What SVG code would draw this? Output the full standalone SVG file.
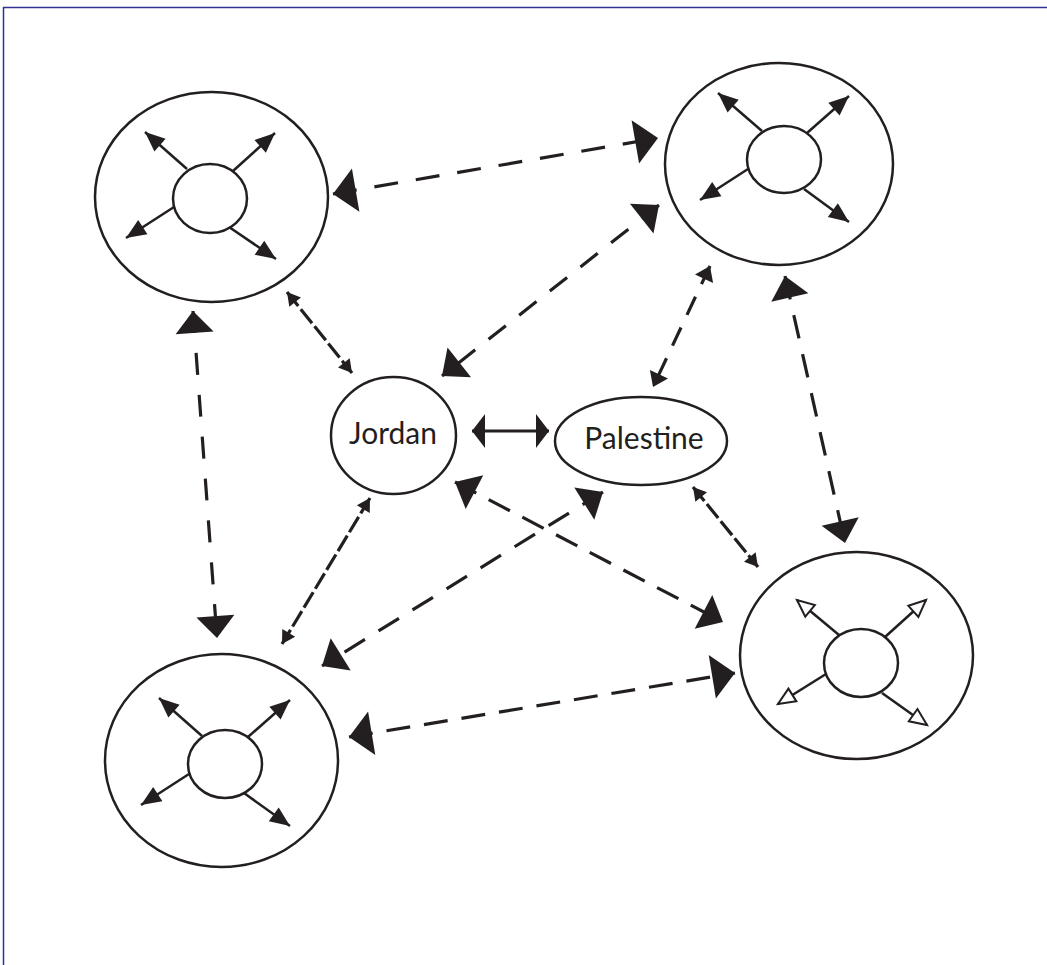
<svg xmlns="http://www.w3.org/2000/svg" width="1047" height="965" viewBox="0 0 1047 965">
<style>
.ring{fill:#fff;stroke:#231f20;stroke-width:2.5}
.spoke{stroke:#231f20;stroke-width:2.5;fill:none;marker-end:url(#mInner)}
.spokeH{stroke:#231f20;stroke-width:2.5;fill:none;marker-end:url(#mHollow)}
.con{stroke:#231f20;stroke-width:3.2;fill:none}
.lab{font-family:Lato,"Open Sans","Liberation Sans",sans-serif;font-weight:400;font-size:30px;fill:#231f20;text-anchor:middle}
</style>
<defs>
<marker id="mBig" markerUnits="userSpaceOnUse" orient="auto-start-reverse" markerWidth="60" markerHeight="60" refX="0" refY="0" viewBox="-30 -30 60 60" overflow="visible"><path d="M0,0 L-23,-22 L-23,22 Z" fill="#231f20"/></marker>
<marker id="mMed" markerUnits="userSpaceOnUse" orient="auto-start-reverse" markerWidth="60" markerHeight="60" refX="0" refY="0" viewBox="-30 -30 60 60" overflow="visible"><path d="M0,0 L-22,-19 L-22,19 Z" fill="#231f20"/></marker>
<marker id="mSmall" markerUnits="userSpaceOnUse" orient="auto-start-reverse" markerWidth="60" markerHeight="60" refX="0" refY="0" viewBox="-30 -30 60 60" overflow="visible"><path d="M0,0 L-13,-7.5 L-13,7.5 Z" fill="#231f20"/></marker>
<marker id="mSmallMed" markerUnits="userSpaceOnUse" orient="auto-start-reverse" markerWidth="60" markerHeight="60" refX="0" refY="0" viewBox="-30 -30 60 60" overflow="visible"><path d="M0,0 L-14,-10 L-14,10 Z" fill="#231f20"/></marker>
<marker id="mJP" markerUnits="userSpaceOnUse" orient="auto-start-reverse" markerWidth="60" markerHeight="60" refX="0" refY="0" viewBox="-30 -30 60 60" overflow="visible"><path d="M0,0 L-13,-17 L-13,17 Z" fill="#231f20"/></marker>
<marker id="mInner" markerUnits="userSpaceOnUse" orient="auto" markerWidth="60" markerHeight="60" refX="0" refY="0" viewBox="-30 -30 60 60" overflow="visible"><path d="M0,0 L-20,-8.5 L-20,8.5 Z" fill="#231f20"/></marker>
<marker id="mHollow" markerUnits="userSpaceOnUse" orient="auto" markerWidth="60" markerHeight="60" refX="0" refY="0" viewBox="-30 -30 60 60" overflow="visible"><path d="M0,0 L-17,-7.5 L-17,7.5 Z" fill="#fff" stroke="#231f20" stroke-width="2"/></marker>
</defs>
<rect width="1047" height="965" fill="#fff"/>
<g id="frame" stroke="#2e3192" stroke-width="1.5" fill="none">
<line x1="3" y1="7.5" x2="1047" y2="7.5"/>
<line x1="3.5" y1="7" x2="3.5" y2="965"/>
</g>
<g id="connectors">
<line class="con" x1="333" y1="194" x2="658" y2="138" stroke-dasharray="24 18" marker-start="url(#mBig)" marker-end="url(#mBig)"/>
<line class="con" x1="659" y1="205" x2="442" y2="376" stroke-dasharray="22 17" marker-start="url(#mMed)" marker-end="url(#mMed)"/>
<line class="con" x1="287" y1="292" x2="352" y2="373" stroke-dasharray="18 4" marker-start="url(#mSmall)" marker-end="url(#mSmall)"/>
<line class="con" x1="710" y1="266" x2="653" y2="387" stroke-dasharray="20 14" marker-start="url(#mSmallMed)" marker-end="url(#mSmallMed)"/>
<line class="con" x1="785" y1="276" x2="845" y2="543" stroke-dasharray="24 16" marker-start="url(#mMed)" marker-end="url(#mMed)"/>
<line class="con" x1="693" y1="487" x2="758" y2="567" stroke-dasharray="18 4" marker-start="url(#mSmall)" marker-end="url(#mSmall)"/>
<line class="con" x1="193" y1="311" x2="217" y2="638" stroke-dasharray="22 20" marker-start="url(#mMed)" marker-end="url(#mMed)"/>
<line class="con" x1="370" y1="498" x2="282" y2="644" stroke-dasharray="18 4" marker-start="url(#mSmall)" marker-end="url(#mSmall)"/>
<line class="con" x1="455" y1="482" x2="723" y2="622" stroke-dasharray="24 14" marker-start="url(#mMed)" marker-end="url(#mMed)"/>
<line class="con" x1="603" y1="492" x2="322" y2="666" stroke-dasharray="24 16" marker-start="url(#mMed)" marker-end="url(#mMed)"/>
<line class="con" x1="349" y1="737" x2="735" y2="673" stroke-dasharray="24 14" marker-start="url(#mBig)" marker-end="url(#mBig)"/>
<line class="con" x1="472" y1="431" x2="549" y2="431" stroke-width="4.5" marker-start="url(#mJP)" marker-end="url(#mJP)"/>
</g>
<g id="node-top-left">
<ellipse class="ring" cx="211.5" cy="197" rx="116.5" ry="105"/>
<ellipse class="ring" cx="210" cy="198.5" rx="37" ry="34.5"/>
<line class="spoke" x1="187" y1="169" x2="145" y2="132"/>
<line class="spoke" x1="233" y1="171" x2="275" y2="133"/>
<line class="spoke" x1="174" y1="207" x2="126" y2="238"/>
<line class="spoke" x1="229" y1="227" x2="276" y2="259"/>
</g>
<g id="node-top-right">
<ellipse class="ring" cx="779" cy="164" rx="114" ry="101"/>
<ellipse class="ring" cx="784" cy="159.5" rx="37" ry="33.5"/>
<line class="spoke" x1="762" y1="131" x2="718" y2="93"/>
<line class="spoke" x1="807" y1="133" x2="849" y2="96"/>
<line class="spoke" x1="748" y1="169" x2="700" y2="200"/>
<line class="spoke" x1="804" y1="189" x2="849" y2="222"/>
</g>
<g id="node-bottom-left">
<ellipse class="ring" cx="221.5" cy="760.5" rx="116.5" ry="106.5"/>
<ellipse class="ring" cx="225" cy="764" rx="37" ry="34"/>
<line class="spoke" x1="202" y1="736" x2="159" y2="698"/>
<line class="spoke" x1="248" y1="737" x2="290" y2="700"/>
<line class="spoke" x1="189" y1="774" x2="141" y2="805"/>
<line class="spoke" x1="244" y1="793" x2="290" y2="826"/>
</g>
<g id="node-bottom-right">
<ellipse class="ring" cx="856.5" cy="655.5" rx="116.5" ry="103.5"/>
<ellipse class="ring" cx="861" cy="663" rx="37" ry="34"/>
<line class="spokeH" x1="839" y1="635" x2="797" y2="600"/>
<line class="spokeH" x1="885" y1="637" x2="926" y2="600"/>
<line class="spokeH" x1="826" y1="674" x2="778" y2="704"/>
<line class="spokeH" x1="882" y1="693" x2="927" y2="725"/>
</g>
<g id="node-jordan">
<ellipse class="ring" cx="393.5" cy="435.5" rx="62.5" ry="58.5"/>
<text class="lab" x="393" y="444">Jordan</text>
</g>
<g id="node-palestine">
<ellipse class="ring" cx="641" cy="441" rx="86" ry="44"/>
<text class="lab" x="644" y="449">Palestine</text>
</g>
</svg>
